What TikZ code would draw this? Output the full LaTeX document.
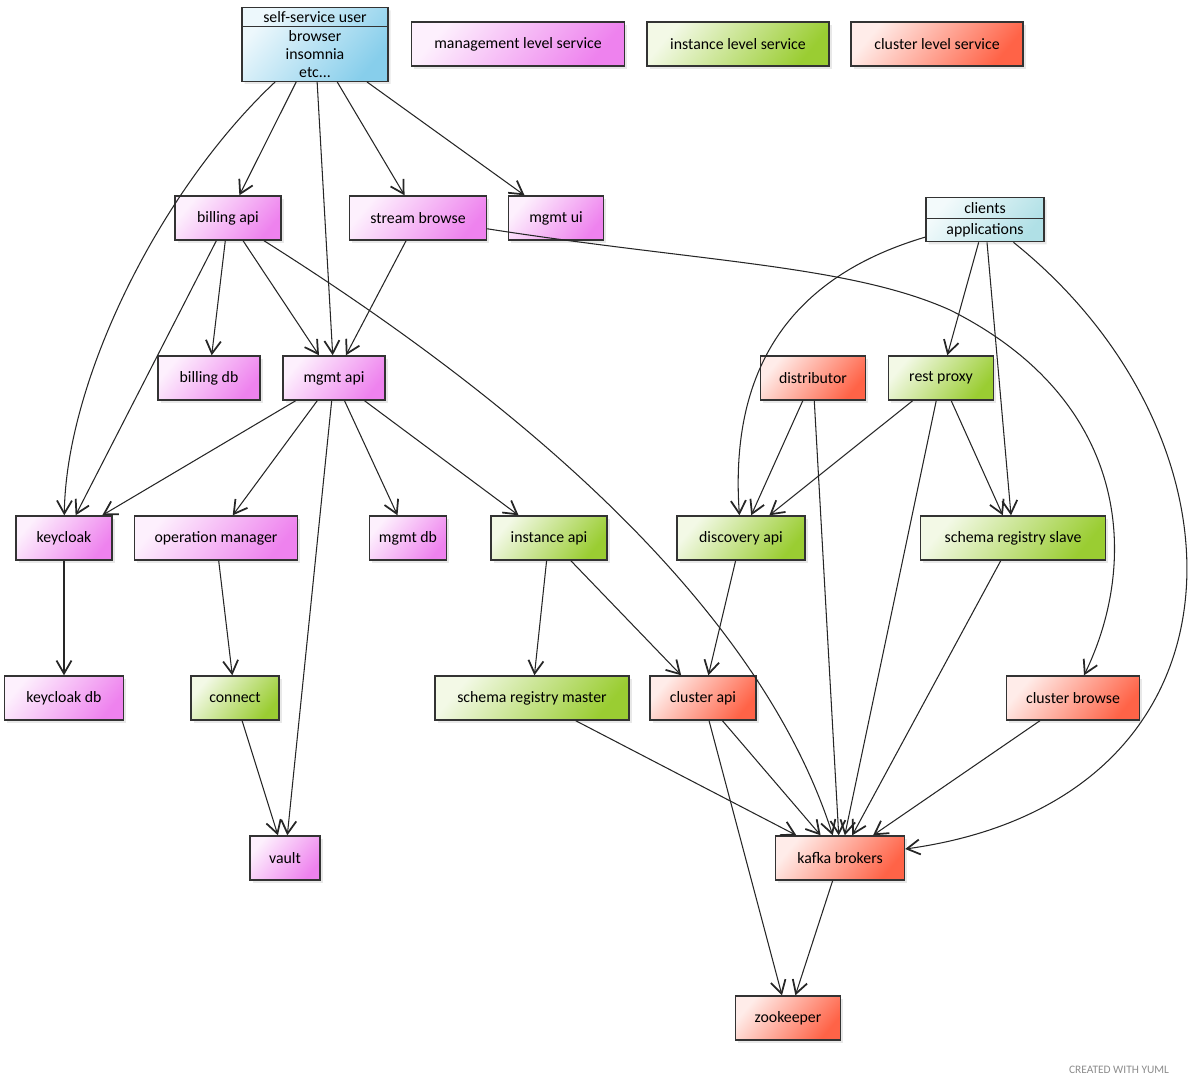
\documentclass[tikz,border=0pt]{standalone}
\usepackage{fontspec}
\setmainfont{Carlito}
\usetikzlibrary{arrows.meta,shapes.multipart,shadows}

\definecolor{mgmtc}{HTML}{EE82EE}
\definecolor{instc}{HTML}{9ACD32}
\definecolor{clusc}{HTML}{FF6347}
\definecolor{userc}{HTML}{87CEEB}
\definecolor{clientc}{HTML}{B0E0E6}

\begin{document}
\begin{tikzpicture}[x=0.02cm,y=-0.02cm,
    svc/.style={draw=black!80,line width=0.8pt,minimum height=0.88cm,inner sep=0pt,
      font=\fontsize{9}{10.2}\selectfont,
      drop shadow={opacity=0.18,shadow xshift=1.5pt,shadow yshift=-1.5pt}},
    mgmtbox/.style={svc,top color=mgmtc!12!white,bottom color=mgmtc,shading angle=50},
    instbox/.style={svc,top color=instc!12!white,bottom color=instc,shading angle=50},
    clusbox/.style={svc,top color=clusc!12!white,bottom color=clusc,shading angle=50},
    actor/.style={svc,rectangle split,rectangle split parts=2,align=center,minimum height=0pt},
    dep/.style={-{Straight Barb[length=2.6mm,width=3mm,line width=1pt]},line width=0.6pt,black!85}]
    \useasboundingbox (0,0) rectangle (1189,1085);

    % actors
    \node[actor,inner ysep=1.8pt,top color=userc!15!white,bottom color=userc,shading angle=50,minimum width=2.92cm] (user) at (315,44.5)
        {self-service user \nodepart{two} browser\\insomnia\\etc...};
    \node[actor,inner ysep=2.4pt,top color=clientc!15!white,bottom color=clientc,shading angle=50,minimum width=2.36cm] (clients) at (985,219.5)
        {clients \nodepart{two} applications};

    % legend
    \node[mgmtbox,minimum width=4.26cm] (legmgmt) at (518,44) {management level service};
    \node[instbox,minimum width=3.64cm] (leginst) at (738,44) {instance level service};
    \node[clusbox,minimum width=3.44cm] (legclus) at (937,44) {cluster level service};

    % services
    \node[mgmtbox,minimum width=2.12cm] (billing) at (228,218) {billing api};
    \node[mgmtbox,minimum width=2.74cm] (stream) at (418,218) {stream browse};
    \node[mgmtbox,minimum width=1.9cm] (mgmtui) at (556,218) {mgmt ui};
    \node[mgmtbox,minimum width=2.04cm] (billingdb) at (209,378) {billing db};
    \node[mgmtbox,minimum width=2.04cm] (mgmtapi) at (334,378) {mgmt api};
    \node[clusbox,minimum width=2.1cm] (distributor) at (813,378) {distributor};
    \node[instbox,minimum width=2.1cm] (restproxy) at (941,378) {rest proxy};
    \node[mgmtbox,minimum width=1.92cm] (keycloak) at (64,538) {keycloak};
    \node[mgmtbox,minimum width=3.26cm] (opmgr) at (216,538) {operation manager};
    \node[mgmtbox,minimum width=1.54cm] (mgmtdb) at (408,538) {mgmt db};
    \node[instbox,minimum width=2.32cm] (instapi) at (549,538) {instance api};
    \node[instbox,minimum width=2.56cm] (discovery) at (741,538) {discovery api};
    \node[instbox,minimum width=3.7cm] (srslave) at (1013,538) {schema registry slave};
    \node[mgmtbox,minimum width=2.38cm] (keycloakdb) at (64,698) {keycloak db};
    \node[instbox,minimum width=1.76cm] (connect) at (235,698) {connect};
    \node[instbox,minimum width=3.88cm] (srmaster) at (532,698) {schema registry master};
    \node[clusbox,minimum width=2.12cm] (clusterapi) at (703,698) {cluster api};
    \node[clusbox,minimum width=2.66cm] (clusterbrowse) at (1073,698) {cluster browse};
    \node[mgmtbox,minimum width=1.4cm] (vault) at (285,858) {vault};
    \node[clusbox,minimum width=2.58cm] (kafka) at (840,858) {kafka brokers};
    \node[clusbox,minimum width=2.1cm] (zookeeper) at (788,1018) {zookeeper};

    % dependencies
    \draw[dep] (user) .. controls (160,190) and (66,380) .. (keycloak);
    \draw[dep] (user) -- (billing);
    \draw[dep] (user) -- (mgmtapi);
    \draw[dep] (user) -- (stream);
    \draw[dep] (user) -- (mgmtui);
    \draw[dep] (billing) -- (keycloak);
    \draw[dep] (billing) -- (billingdb);
    \draw[dep] (billing) -- (mgmtapi);
    \draw[dep] (billing) .. controls (580,440) and (770,640) .. (kafka);
    \draw[dep] (stream) -- (mgmtapi);
    \draw[dep] (stream) .. controls (700,262) and (850,265) .. (950,310)
        .. controls (1130,400) and (1140,560) .. (clusterbrowse);
    \draw[dep] (mgmtapi) -- (keycloak);
    \draw[dep] (mgmtapi) -- (opmgr);
    \draw[dep] (mgmtapi) -- (vault);
    \draw[dep] (mgmtapi) -- (mgmtdb);
    \draw[dep] (mgmtapi) -- (instapi);
    \draw[dep] (clients) .. controls (780,280) and (730,380) .. (discovery);
    \draw[dep] (clients) -- (restproxy);
    \draw[dep] (clients) -- (srslave);
    \draw[dep] (clients) .. controls (1260,440) and (1260,800) .. (kafka);
    \draw[dep] (distributor) -- (discovery);
    \draw[dep] (distributor) -- (kafka);
    \draw[dep] (restproxy) -- (discovery);
    \draw[dep] (restproxy) -- (kafka);
    \draw[dep] (restproxy) -- (srslave);
    \draw[dep] (keycloak) -- (keycloakdb);
    \draw[dep] (opmgr) -- (connect);
    \draw[dep] (instapi) -- (srmaster);
    \draw[dep] (instapi) -- (clusterapi);
    \draw[dep] (discovery) -- (clusterapi);
    \draw[dep] (srslave) -- (kafka);
    \draw[dep] (connect) -- (vault);
    \draw[dep] (srmaster) -- (kafka);
    \draw[dep] (clusterapi) -- (kafka);
    \draw[dep] (clusterapi) -- (zookeeper);
    \draw[dep] (clusterbrowse) -- (kafka);
    \draw[dep] (kafka) -- (zookeeper);

    \node[text=black!45,font=\fontsize{6.5}{7}\selectfont] (credit) at (1119,1070) {CREATED WITH YUML};
\end{tikzpicture}
\end{document}
